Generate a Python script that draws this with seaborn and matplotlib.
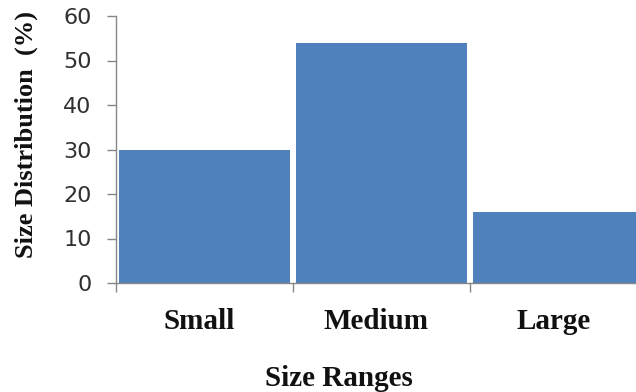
import matplotlib
matplotlib.use("Agg")
import matplotlib.pyplot as plt
import matplotlib.transforms as mtrans
import seaborn as sns
import pandas as pd

categories = ["Small", "Medium", "Large"]
values = [30, 54, 16]
y_ticks = [0, 10, 20, 30, 40, 50, 60]

sns.set_theme(style="white")
plt.rcParams['font.family'] = ['DejaVu Sans']

df = pd.DataFrame({"cat": categories, "val": values})

fig = plt.figure(figsize=(6.36, 3.92), dpi=100)
ax = fig.add_axes([116/636, 1 - 283/392, 531/636, 267/392])

sns.barplot(data=df, x="cat", y="val", color="#4F81BD", saturation=1,
            width=0.965, ax=ax, edgecolor="none", linewidth=0)

ax.set_xlim(-0.5, 2.5)
ax.set_ylim(0, 60)
ax.set_yticks(y_ticks)
ax.set_yticklabels([str(v) for v in y_ticks], fontsize=16, color="#303030",
                   family="DejaVu Sans")

spine_col = "#868686"
for s in ["top", "right"]:
    ax.spines[s].set_visible(False)
for s in ["left", "bottom"]:
    ax.spines[s].set_color(spine_col)
    ax.spines[s].set_linewidth(1.0)

ax.tick_params(axis="y", which="major", direction="out", length=6.5, width=1,
               color=spine_col, pad=11, left=True)
ax.set_xticks([-0.5, 0.5, 1.5, 2.5], minor=True)
ax.tick_params(axis="x", which="minor", direction="out", length=6.5, width=1,
               color=spine_col, bottom=True)
ax.tick_params(axis="x", which="major", length=0, pad=18, bottom=True)
ax.set_xticks([0, 1, 2])
ax.set_xticklabels(categories, fontsize=21, fontweight="bold",
                   family="Liberation Serif", color="#111111")
shift = mtrans.ScaledTranslation(-5 / 100, 0, fig.dpi_scale_trans)
for lab in ax.get_xticklabels():
    lab.set_transform(lab.get_transform() + shift)

ax.set_xlabel("Size Ranges", fontsize=21, fontweight="bold",
              family="Liberation Serif", color="#111111")
ax.xaxis.set_label_coords((339 - 116) / 531, (283 - 379) / 267)
ax.xaxis.label.set_va("center")

ax.set_ylabel("Size Distribution  (%)", fontsize=19, fontweight="bold",
              family="Liberation Serif", color="#111111")
ax.yaxis.set_label_coords(-(116 - 26) / 531, (283 - 135) / 267)
ax.yaxis.label.set_va("center")

fig.savefig("out.png", dpi=100)
